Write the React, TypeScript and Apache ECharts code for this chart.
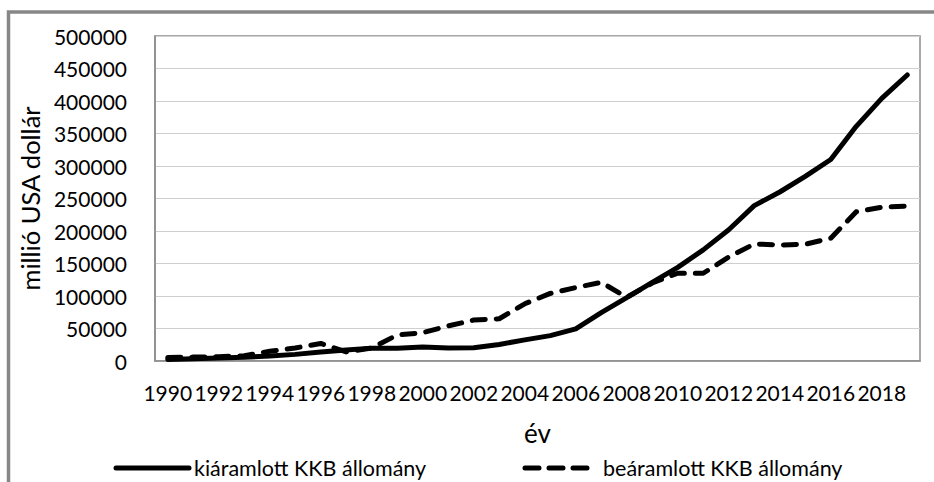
import React, { useEffect, useRef } from "react";
import * as echarts from "echarts";

const years = [
  "1990", "1991", "1992", "1993", "1994", "1995", "1996", "1997", "1998", "1999",
  "2000", "2001", "2002", "2003", "2004", "2005", "2006", "2007", "2008", "2009",
  "2010", "2011", "2012", "2013", "2014", "2015", "2016", "2017", "2018", "2019",
];

const outwardStock = [
  2300, 3400, 4500, 5600, 7600, 10200, 13800, 17000, 19800, 19600,
  21500, 19900, 20500, 25500, 32500, 39000, 49500, 74500, 97500, 121000,
  144000, 171000, 202000, 239000, 260000, 284000, 310000, 361000, 404000, 440000,
];

const inwardStock = [
  5200, 6000, 6600, 8000, 15000, 20000, 27000, 14000, 20000, 40000,
  43500, 54000, 63000, 65000, 88000, 104000, 113000, 121000, 98000, 120000,
  135000, 135000, 160000, 180000, 178500, 179500, 189000, 229500, 236500, 238500,
];

const seriesNames = ["kiáramlott KKB állomány", "beáramlott KKB állomány"];

const FONT = "Lato";

export default function App() {
  const ref = useRef<HTMLDivElement>(null);
  useEffect(() => {
    if (!ref.current) return;
    const chart = echarts.init(ref.current, null, { renderer: "svg" });
    const legendY = 468;
    chart.setOption({
      animation: false,
      backgroundColor: "#ffffff",
      textStyle: { fontFamily: FONT, color: "#000" },
      graphic: [
        {
          type: "rect",
          shape: { x: 8.5, y: 12, width: 2000, height: 2000 },
          style: { fill: "none", stroke: "#878787", lineWidth: 3.5 },
          silent: true,
          z: 100,
        },
        {
          type: "line",
          shape: { x1: 116, y1: legendY, x2: 189, y2: legendY },
          style: { stroke: "#000", lineWidth: 5, lineCap: "round" },
        },
        {
          type: "text",
          x: 194,
          y: legendY,
          style: {
            text: seriesNames[0],
            font: `21.5px ${FONT}`,
            fill: "#000",
            verticalAlign: "middle",
            align: "left",
          },
        },
        {
          type: "line",
          shape: { x1: 525, y1: legendY, x2: 592, y2: legendY },
          style: { stroke: "#000", lineWidth: 5, lineCap: "round", lineDash: [14, 10] },
        },
        {
          type: "text",
          x: 603,
          y: legendY,
          style: {
            text: seriesNames[1],
            font: `21.5px ${FONT}`,
            fill: "#000",
            verticalAlign: "middle",
            align: "left",
          },
        },
      ],
      grid: {
        left: 155,
        right: 14,
        top: 36,
        bottom: 121,
        show: true,
        borderColor: "#8c8c8c",
        borderWidth: 1.5,
        containLabel: false,
      },
      xAxis: {
        type: "category",
        data: years,
        boundaryGap: true,
        name: "év",
        nameLocation: "middle",
        nameGap: 59,
        nameTextStyle: { fontFamily: FONT, fontSize: 26, color: "#000" },
        axisLine: { show: true, lineStyle: { color: "#8c8c8c", width: 1.5 } },
        axisTick: { show: false },
        axisLabel: {
          interval: 1,
          margin: 21,
          fontFamily: FONT,
          fontSize: 21,
          color: "#000",
        },
        splitLine: { show: false },
      },
      yAxis: {
        type: "value",
        min: 0,
        max: 500000,
        interval: 50000,
        name: "millió USA dollár",
        nameLocation: "middle",
        nameGap: 104,
        nameTextStyle: { fontFamily: FONT, fontSize: 25.5, color: "#000" },
        axisLine: { show: true, lineStyle: { color: "#8c8c8c", width: 1.5 } },
        axisTick: { show: false },
        axisLabel: {
          margin: 28,
          fontFamily: FONT,
          fontSize: 21,
          color: "#000",
          formatter: (v: number) => String(v),
        },
        splitLine: { show: true, lineStyle: { color: "#cfcfcf", width: 1.2 } },
      },
      series: [
        {
          name: seriesNames[0],
          type: "line",
          data: outwardStock,
          symbol: "none",
          lineStyle: { color: "#000", width: 5, cap: "round", join: "round" },
          itemStyle: { color: "#000" },
        },
        {
          name: seriesNames[1],
          type: "line",
          data: inwardStock,
          symbol: "none",
          lineStyle: { color: "#000", width: 5, type: [13, 11], cap: "round", join: "round" },
          itemStyle: { color: "#000" },
        },
      ],
    });
    return () => chart.dispose();
  }, []);
  return (
    <div
      ref={ref}
      style={{ position: "fixed", left: 0, top: 0, width: 934, height: 482 }}
    />
  );
}
